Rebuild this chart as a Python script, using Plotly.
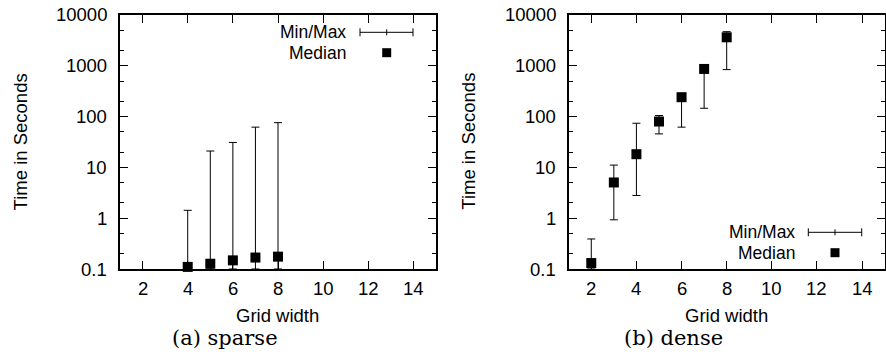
import math
import plotly.graph_objects as go

# ---- data ----
grid_sparse = [4, 5, 6, 7, 8]
median_sparse = [0.11, 0.127, 0.148, 0.168, 0.175]
max_sparse = [1.43, 21.0, 31.0, 62.0, 76.0]
min_sparse = [0.1, 0.1, 0.1, 0.1, 0.1]

grid_dense = [2, 3, 4, 5, 6, 7, 8]
median_dense = [0.131, 5.05, 18.2, 80.0, 241.0, 867.0, 3640.0]
max_dense = [0.39, 11.1, 74.0, 105.0, 255.0, 900.0, 4700.0]
min_dense = [0.1, 0.93, 2.8, 45.7, 62.0, 146.0, 841.0]

x_ticks = [2, 4, 6, 8, 10, 12, 14]
y_ticks = [0.1, 1, 10, 100, 1000, 10000]
y_tick_labels = ["0.1", "1", "10", "100", "1000", "10000"]
y_minor = [m * 10 ** e for e in range(-1, 4) for m in (2, 5)]

W, H = 886, 362
SANS = "Liberation Sans"
SERIF = "DejaVu Serif"
FS = 18.5


def px(x):
    return x / W


def py(y):
    return 1 - y / H


fig = go.Figure()


def add_panel(xs, med, mn, mx, xa, ya):
    fig.add_trace(go.Scatter(
        x=xs, y=med, mode="markers", xaxis=xa, yaxis=ya, cliponaxis=False,
        marker=dict(symbol="square", size=10, color="black"),
        error_y=dict(type="data", symmetric=False,
                     array=[a - b for a, b in zip(mx, med)],
                     arrayminus=[b - c for b, c in zip(med, mn)],
                     color="black", thickness=1, width=4),
        hoverinfo="skip", showlegend=False))


add_panel(grid_sparse, median_sparse, min_sparse, max_sparse, "x", "y")
add_panel(grid_dense, median_dense, min_dense, max_dense, "x2", "y2")

xdom1 = [px(120), px(436)]
xdom2 = [px(568.7), px(884.7)]
ydom = [py(269), py(15)]

axis_common = dict(showline=True, linewidth=2, linecolor="black", mirror="allticks",
                   ticks="inside", ticklen=8, tickwidth=1, tickcolor="black",
                   showgrid=False, zeroline=False, showticklabels=False)

xa = dict(axis_common, range=[1, 15], tickmode="array", tickvals=x_ticks)
ya = dict(axis_common, type="log", range=[-1, 4], tickmode="array",
          tickvals=y_ticks,
          minor=dict(tickmode="array", tickvals=y_minor, ticks="inside",
                     ticklen=4, tickwidth=1, tickcolor="black"))

fig.update_layout(
    width=W, height=H, margin=dict(l=0, r=0, t=0, b=0),
    paper_bgcolor="white", plot_bgcolor="white",
    xaxis=dict(xa, domain=xdom1, anchor="y"),
    yaxis=dict(ya, domain=ydom, anchor="x"),
    xaxis2=dict(xa, domain=xdom2, anchor="y2"),
    yaxis2=dict(ya, domain=ydom, anchor="x2"),
)

ann = []
shapes = []


def text(x, y, s, xanchor="center", size=FS, family=SANS, angle=0):
    ann.append(dict(x=px(x), y=py(y), xref="paper", yref="paper", text=s,
                    showarrow=False, xanchor=xanchor, yanchor="middle",
                    textangle=angle, font=dict(family=family, size=size, color="black")))


# tick labels placed through the axes' own scales
for xr, yr in (("x", "y"), ("x2", "y2")):
    for v in x_ticks:
        ann.append(dict(x=v, y=0, xref=xr, yref=yr + " domain", text=str(v),
                        showarrow=False, xanchor="center", yanchor="middle",
                        yshift=-19.5, font=dict(family=SANS, size=FS, color="black")))
    for v, lab in zip(y_ticks, y_tick_labels):
        ann.append(dict(x=0, y=math.log10(v), xref=xr + " domain", yref=yr, text=lab,
                        showarrow=False, xanchor="right", yanchor="middle",
                        xshift=-11, font=dict(family=SANS, size=FS, color="black")))


def seg(x0, y0, x1, y1):
    shapes.append(dict(type="line", xref="paper", yref="paper",
                       x0=px(x0), y0=py(y0), x1=px(x1), y1=py(y1),
                       line=dict(color="black", width=1)))


def legend(tx, y1, y2, lx0, lx1, lc):
    text(tx, y1, "Min/Max", xanchor="right", size=17.5)
    text(tx, y2, "Median", xanchor="right", size=17.5)
    seg(lx0, y1, lx1, y1)
    seg(lx0, y1 - 4, lx0, y1 + 4)
    seg(lx1, y1 - 4, lx1, y1 + 4)
    seg(lc, y1 - 3, lc, y1 + 3)
    shapes.append(dict(type="rect", xref="paper", yref="paper",
                       x0=px(lc - 4.5), x1=px(lc + 4.5), y0=py(y2 - 4.5), y1=py(y2 + 4.5),
                       fillcolor="black", line=dict(width=0)))


legend(348, 32.3, 52.7, 360, 413, 386.7)
legend(796.7, 232.3, 252.7, 808.3, 861.7, 835)

# axis titles
text(277.7, 315, "Grid width")
text(726.3, 315, "Grid width")
text(20.7, 141.7, "Time in Seconds", angle=-90)
text(469, 141.7, "Time in Seconds", angle=-90)
# captions
text(225, 338, "(a) sparse", family=SERIF, size=21)
text(673, 338, "(b) dense", family=SERIF, size=21)

fig.update_layout(annotations=ann, shapes=shapes, hovermode=False)
fig.write_html("out.html", config={"displayModeBar": False, "staticPlot": True},
               post_script="document.body.style.margin='0';document.body.style.overflow='hidden';")
